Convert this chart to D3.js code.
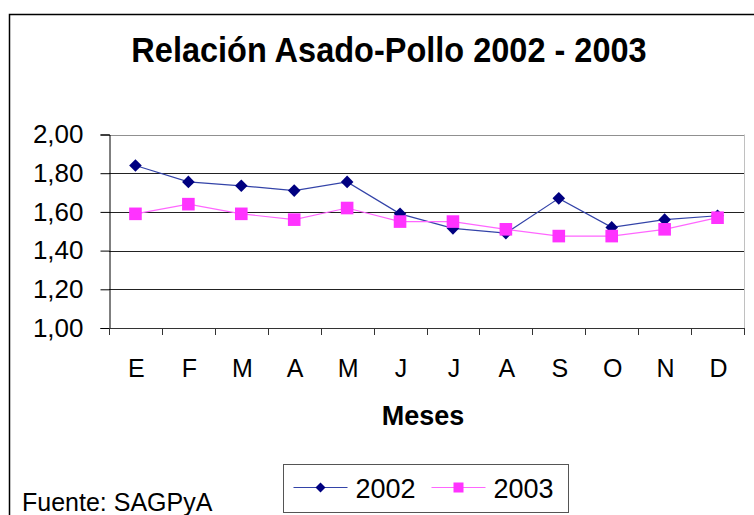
<!DOCTYPE html>
<html>
<head>
<meta charset="utf-8">
<script src="https://cdn.jsdelivr.net/npm/d3@7"></script>
<style>
  body { margin: 0; background: #fff; }
  text { font-family: "Liberation Sans", Arial, sans-serif; fill: #000; }
</style>
</head>
<body>
<svg id="chart" width="754" height="515"></svg>
<script>
// data
var months = ['E', 'F', 'M', 'A', 'M', 'J', 'J', 'A', 'S', 'O', 'N', 'D'];
var values2002 = [1.84, 1.755, 1.735, 1.71, 1.755, 1.59, 1.515, 1.49, 1.67, 1.52, 1.56, 1.58];
var values2003 = [1.59, 1.64, 1.59, 1.56, 1.62, 1.55, 1.55, 1.51, 1.475, 1.475, 1.51, 1.57];
var yTicks = [1.0, 1.2, 1.4, 1.6, 1.8, 2.0];

var series = [
  { name: '2002', values: values2002, color: '#000080', line: '#3343a8', marker: 'diamond' },
  { name: '2003', values: values2003, color: '#ff33ff', line: '#ff66ff', marker: 'square' }
];

var svg = d3.select('#chart');

// outer chart frame
svg.append('path')
    .attr('d', 'M9.5,515 V14.5 H754')
    .attr('fill', 'none')
    .attr('stroke', '#000')
    .attr('stroke-width', 1.5);

var plotL = 109, plotR = 744, plotT = 134.5, plotB = 328;

var x = d3.scaleBand().domain(d3.range(months.length)).range([plotL, plotR]);
var y = d3.scaleLinear().domain([1, 2]).range([plotB, plotT]);

// title (slightly stretched vertically, like the original)
svg.append('text')
    .attr('transform', 'translate(389,62) scale(1,1.1)')
    .attr('text-anchor', 'middle')
    .attr('font-size', 32.5)
    .attr('font-weight', 'bold')
    .text('Relación Asado-Pollo 2002 - 2003');

// gridlines
svg.append('g')
  .selectAll('line')
  .data(yTicks.filter(function(d) { return d > 1; }))
  .join('line')
    .attr('x1', plotL)
    .attr('x2', plotR)
    .attr('y1', function(d) { return Math.round(y(d)) + 0.5; })
    .attr('y2', function(d) { return Math.round(y(d)) + 0.5; })
    .attr('stroke', function(d) { return d === 2 ? '#909090' : '#222'; })
    .attr('stroke-width', 1);

// right edge of plot
svg.append('line')
    .attr('x1', plotR + 0.5).attr('x2', plotR + 0.5)
    .attr('y1', plotT).attr('y2', plotB)
    .attr('stroke', '#c0c0c0');

// y axis
var yAxis = d3.axisLeft(y)
    .tickValues(yTicks)
    .tickSize(9)
    .tickPadding(17)
    .tickFormat(function(d) { return d3.format('.2f')(d).replace('.', ','); });

svg.append('g')
    .attr('transform', 'translate(' + (plotL + 0.5) + ',0)')
    .call(yAxis)
    .call(function(g) {
      g.select('.domain').attr('stroke', '#000');
      g.selectAll('.tick line').attr('stroke', '#000');
      g.selectAll('.tick text')
        .attr('font-size', 26)
        .attr('font-family', '"Liberation Sans", Arial, sans-serif')
        .attr('fill', '#000');
    });

// x axis: ticks between categories
svg.append('g')
  .call(function(g) {
    g.append('line')
        .attr('x1', plotL).attr('x2', plotR + 1)
        .attr('y1', plotB + 0.5).attr('y2', plotB + 0.5)
        .attr('stroke', '#333');
    g.selectAll('.xtick')
      .data(d3.range(months.length + 1))
      .join('line')
        .attr('class', 'xtick')
        .attr('x1', function(i) { return Math.round(plotL + i * x.step()) + 0.5; })
        .attr('x2', function(i) { return Math.round(plotL + i * x.step()) + 0.5; })
        .attr('y1', plotB)
        .attr('y2', plotB + 7)
        .attr('stroke', '#333');
    g.selectAll('.xlabel')
      .data(months)
      .join('text')
        .attr('class', 'xlabel')
        .attr('x', function(d, i) { return x(i) + x.bandwidth() / 2 + 1; })
        .attr('y', 377)
        .attr('text-anchor', 'middle')
        .attr('font-size', 25)
        .text(function(d) { return d; });
  });

// x axis title
svg.append('text')
    .attr('x', 423)
    .attr('y', 425)
    .attr('text-anchor', 'middle')
    .attr('font-size', 27)
    .attr('font-weight', 'bold')
    .text('Meses');

// source
svg.append('text')
    .attr('x', 22)
    .attr('y', 511)
    .attr('font-size', 25)
    .text('Fuente: SAGPyA');

function drawMarker(sel, type, size, color) {
  if (type === 'diamond') {
    sel.append('path')
        .attr('d', 'M0,' + (-size) + ' L' + size + ',0 L0,' + size + ' L' + (-size) + ',0 Z')
        .attr('fill', color);
  } else {
    sel.append('rect')
        .attr('x', -size).attr('y', -size)
        .attr('width', size * 2).attr('height', size * 2)
        .attr('fill', color);
  }
}

var line = d3.line()
    .x(function(d, i) { return x(i) + x.bandwidth() / 2; })
    .y(function(d) { return y(d); });

series.forEach(function(s) {
  var g = svg.append('g');
  g.append('path')
      .attr('d', line(s.values))
      .attr('fill', 'none')
      .attr('stroke', s.line)
      .attr('stroke-width', 1.2);
  g.selectAll('g.pt')
    .data(s.values)
    .join('g')
      .attr('class', 'pt')
      .attr('transform', function(d, i) {
        return 'translate(' + (x(i) + x.bandwidth() / 2) + ',' + y(d) + ')';
      })
      .each(function() {
        drawMarker(d3.select(this), s.marker, 6.3, s.color);
      });
});

// legend
var legend = svg.append('g').attr('transform', 'translate(283.5,464.5)');
legend.append('rect')
    .attr('width', 285)
    .attr('height', 48)
    .attr('fill', '#fff')
    .attr('stroke', '#555');

var legendX = [10, 148];
series.forEach(function(s, i) {
  var item = legend.append('g').attr('transform', 'translate(' + legendX[i] + ',23)');
  item.append('line')
      .attr('x1', 0).attr('x2', 54)
      .attr('stroke', s.line)
      .attr('stroke-width', 1.2);
  var m = item.append('g').attr('transform', 'translate(27,0)');
  drawMarker(m, s.marker, 5, s.color);
  item.append('text')
      .attr('x', 62)
      .attr('y', 10)
      .attr('font-size', 27)
      .text(s.name);
});
</script>
</body>
</html>
